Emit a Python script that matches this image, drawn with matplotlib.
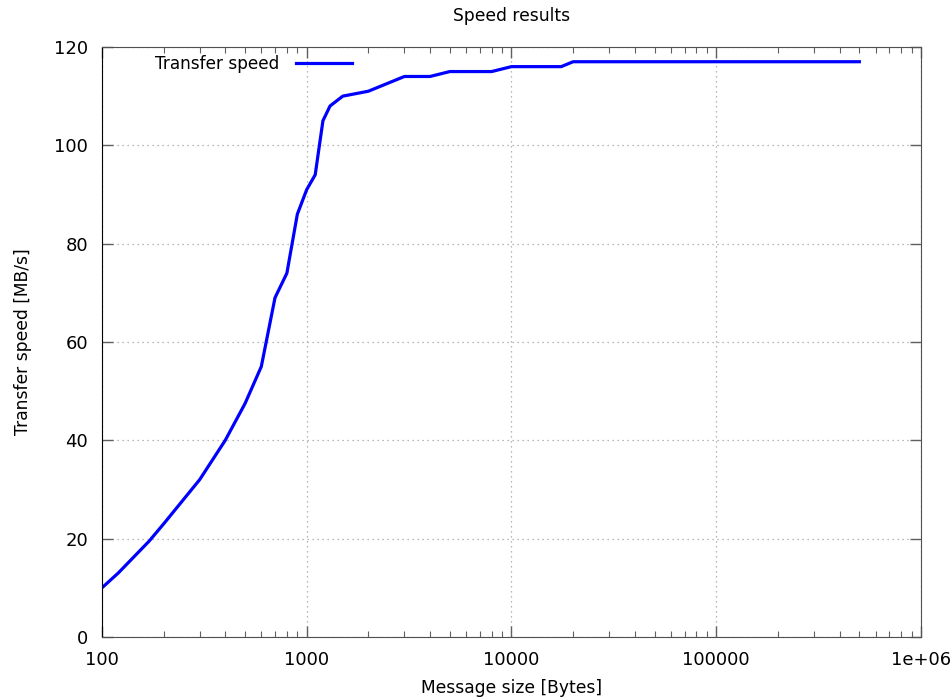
import numpy as np
import matplotlib.pyplot as plt
from matplotlib.ticker import LogLocator, FixedLocator, NullFormatter

# rozmiar wiadomosci [B] i predkosc [MB/s]
msg_size = [100, 120, 170, 200, 300, 400, 500, 600, 700, 800, 900, 1000,
            1100, 1200, 1300, 1500, 2000, 3000, 4000, 5000, 8000, 10000,
            17500, 20000, 50000, 100000, 200000, 500000]
speed = [10, 13, 19.5, 23, 32, 40, 47.5, 55, 69, 74, 86, 91,
         94, 105, 108, 110, 111, 114, 114, 115, 115, 116,
         116, 117, 117, 117, 117, 117]

x_ticks = [100, 1000, 10000, 100000, 1000000]
x_ticklabels = ['100', '1000', '10000', '100000', '1e+06']
y_ticks = [0, 20, 40, 60, 80, 100, 120]

plt.rcParams['font.family'] = 'DejaVu Sans'
fig = plt.figure(figsize=(9.53, 7.0), dpi=100)
ax = fig.add_axes([0.107, 0.09, 0.8594, 0.8429])

ax.plot(msg_size, speed, color='#0000ff', lw=2.3, label='Transfer speed')

ax.set_xscale('log')
ax.set_xlim(100, 1e6)
ax.set_ylim(0, 120)
ax.xaxis.set_major_locator(FixedLocator(x_ticks))
ax.set_xticklabels(x_ticklabels)
ax.xaxis.set_minor_locator(LogLocator(base=10, subs=np.arange(2, 10)))
ax.xaxis.set_minor_formatter(NullFormatter())
ax.set_yticks(y_ticks)

ax.tick_params(which='both', direction='in', top=True, right=True,
               labelsize=13, color='#606060', pad=10)
ax.tick_params(which='major', length=8, width=1)
ax.tick_params(which='minor', length=4.5, width=0.8)

ax.grid(True, which='major', color='#a0a0a0', linestyle=(0, (1, 3)), lw=0.9)

for s in ['top', 'right', 'bottom']:
    ax.spines[s].set_color('#505050')
ax.spines['left'].set_color('black')

ax.set_title('Speed results', fontsize=12.3, pad=19)
ax.set_xlabel('Message size [Bytes]', fontsize=12.3, labelpad=7)
ax.set_ylabel('Transfer speed [MB/s]', fontsize=12.3, labelpad=16)

ax.legend(loc='upper left', frameon=False, markerfirst=False, fontsize=12.2,
          handlelength=3.3, handletextpad=1.0,
          bbox_to_anchor=(0.05, 1.007), borderaxespad=0.3)

fig.savefig('out.png', dpi=100)
